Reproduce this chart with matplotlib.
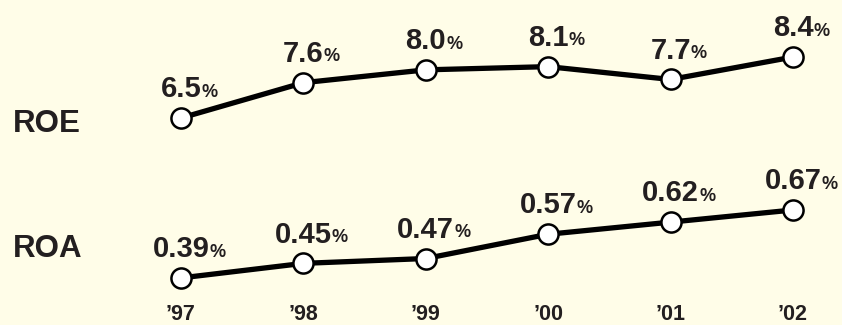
import matplotlib

matplotlib.use("Agg")
import matplotlib.pyplot as plt

YEARS = ["\u201997", "\u201998", "\u201999", "\u201900", "\u201901", "\u201902"]
ROE = [6.5, 7.6, 8.0, 8.1, 7.7, 8.4]
ROA = [0.39, 0.45, 0.47, 0.57, 0.62, 0.67]
ROE_LABELS = ["6.5", "7.6", "8.0", "8.1", "7.7", "8.4"]
ROA_LABELS = ["0.39", "0.45", "0.47", "0.57", "0.62", "0.67"]

BG = "#FFFDE8"
INK = "#231F20"
W, H = 842, 325

plt.rcParams["font.family"] = ["Liberation Sans", "DejaVu Sans"]
plt.rcParams["font.weight"] = "bold"


def px_axes(fig, left, top, right, bottom):
    return fig.add_axes([left / W, 1 - bottom / H, (right - left) / W, (bottom - top) / H])


def draw_series(ax, values, labels):
    x = range(len(values))
    ax.plot(x, values, color="black", lw=3.8, solid_capstyle="butt", zorder=2)
    ax.plot(x, values, ls="none", marker="o", ms=14.5, mfc="white", mec="black", mew=1.8, zorder=3)
    for xi, v, lab in zip(x, values, labels):
        t = ax.annotate(lab, (xi, v), xytext=(0, 15), textcoords="offset points",
                        ha="center", va="baseline", fontsize=21, color=INK, fontweight="bold")
        ax.annotate("%", xy=(1, 0), xycoords=t, xytext=(0, 1.8), textcoords="offset points",
                    ha="left", va="bottom", fontsize=13, color=INK, fontweight="bold")


def style(ax):
    ax.set_facecolor("none")
    ax.set_xlim(-0.498, 5.40)
    for s in ax.spines.values():
        s.set_visible(False)
    ax.set_yticks([])
    ax.tick_params(axis="x", length=0)


fig = plt.figure(figsize=(W / 100, H / 100), dpi=100, facecolor=BG)

ax_roe = px_axes(fig, 120, 0, 842, 150)
style(ax_roe)
ax_roe.set_ylim(5.503, 10.176)
ax_roe.set_xticks([])
draw_series(ax_roe, ROE, ROE_LABELS)

ax_roa = px_axes(fig, 120, 160, 842, 300)
style(ax_roa)
ax_roa.set_ylim(0.299, 0.876)
ax_roa.set_xticks(range(len(YEARS)), YEARS)
ax_roa.tick_params(axis="x", pad=3, labelsize=15.5, labelcolor=INK)
draw_series(ax_roa, ROA, ROA_LABELS)

fig.text(13 / W, 1 - 132 / H, "ROE", fontsize=22.5, fontweight="bold", color=INK, va="baseline")
fig.text(13 / W, 1 - 257 / H, "ROA", fontsize=22.5, fontweight="bold", color=INK, va="baseline")

fig.savefig("out.png", dpi=100, facecolor=BG)
